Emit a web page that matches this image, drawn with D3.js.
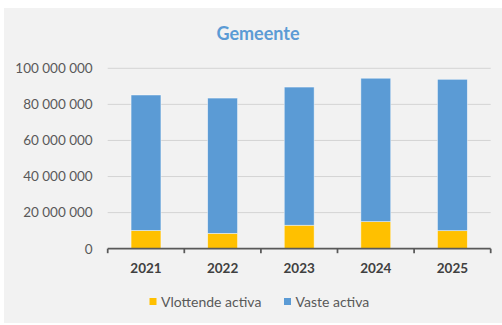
<!DOCTYPE html>
<html>
<head>
<meta charset="utf-8">
<script src="https://cdn.jsdelivr.net/npm/d3@7"></script>
<style>
  html, body { margin: 0; padding: 0; background: #ffffff; }
  svg { display: block; }
</style>
</head>
<body>
<svg id="chart" width="502" height="325"></svg>
<script>
// Balans gemeente: vlottende en vaste activa per jaar (euro)
const years = ["2021", "2022", "2023", "2024", "2025"];
const vlottendeActiva = [10100000, 8500000, 13000000, 15000000, 10000000];
const vasteActiva = [75100000, 75000000, 76600000, 79500000, 83900000];
const yTicks = [0, 20000000, 40000000, 60000000, 80000000, 100000000];
const seriesNames = ["Vlottende activa", "Vaste activa"];
const seriesColors = ["#FFC000", "#5B9BD5"];

const svg = d3.select("#chart");
const font = "Lato, 'Open Sans', sans-serif";

// panel background
svg.append("rect")
  .attr("x", 4).attr("y", 8).attr("width", 498).attr("height", 315)
  .attr("fill", "#f2f2f2");

// title
svg.append("text")
  .attr("x", 258).attr("y", 40)
  .attr("text-anchor", "middle")
  .attr("font-family", font).attr("font-weight", 700).attr("font-size", 18)
  .attr("fill", "#5B9BD5")
  .text("Gemeente");

const plot = { left: 107.7, right: 490.7, top: 68.3, bottom: 248.7 };

const x = d3.scaleBand().domain(years)
  .range([plot.left, plot.right])
  .paddingInner(0.61).paddingOuter(0.305);

const y = d3.scaleLinear().domain([0, 100000000])
  .range([plot.bottom, plot.top]);

const fmt = v => d3.format(",")(v).replace(/,/g, " ");

// gridlines
svg.append("g").selectAll("line")
  .data(yTicks.filter(t => t > 0))
  .join("line")
  .attr("x1", plot.left).attr("x2", plot.right)
  .attr("y1", d => y(d)).attr("y2", d => y(d))
  .attr("stroke", "#d4d4d4").attr("stroke-width", 1);

// y axis labels
const yAxis = d3.axisLeft(y).tickValues(yTicks).tickFormat(fmt).tickSize(0).tickPadding(0);
const yg = svg.append("g").attr("transform", `translate(${plot.left - 15},0)`).call(yAxis);
yg.select(".domain").remove();
yg.selectAll("text")
  .attr("font-family", font).attr("font-size", 13.5).attr("fill", "#595959");

// stacked bars
const rows = years.map((yr, i) => ({ year: yr, v0: vlottendeActiva[i], v1: vasteActiva[i] }));
const stack = d3.stack().keys(["v0", "v1"])(rows);

svg.append("g").selectAll("g")
  .data(stack)
  .join("g")
  .attr("fill", (d, i) => seriesColors[i])
  .selectAll("rect")
  .data(d => d)
  .join("rect")
  .attr("x", d => x(d.data.year))
  .attr("width", x.bandwidth())
  .attr("y", d => y(d[1]))
  .attr("height", d => y(d[0]) - y(d[1]))
  .attr("stroke", "#ffffff").attr("stroke-opacity", 0.6).attr("stroke-width", 0.75);

// x axis
const xStep = x.step();
const xg = svg.append("g").attr("transform", `translate(0,${plot.bottom})`);
xg.append("line")
  .attr("x1", plot.left).attr("x2", plot.right)
  .attr("y1", 0).attr("y2", 0)
  .attr("stroke", "#595959").attr("stroke-width", 1.75);
xg.selectAll("line.tick")
  .data(d3.range(years.length + 1))
  .join("line").attr("class", "tick")
  .attr("x1", i => plot.left + i * xStep).attr("x2", i => plot.left + i * xStep)
  .attr("y1", 0).attr("y2", 4.5)
  .attr("stroke", "#595959").attr("stroke-width", 1.75);
xg.selectAll("text")
  .data(years)
  .join("text")
  .attr("x", d => x(d) + x.bandwidth() / 2)
  .attr("y", 24)
  .attr("text-anchor", "middle")
  .attr("font-family", font).attr("font-weight", 700).attr("font-size", 13.5)
  .attr("fill", "#404040")
  .text(d => d);

// legend
const legend = svg.append("g");
const legendItems = [
  { name: seriesNames[0], color: seriesColors[0], x: 149.5 },
  { name: seriesNames[1], color: seriesColors[1], x: 284 }
];
const li = legend.selectAll("g").data(legendItems).join("g")
  .attr("transform", d => `translate(${d.x},301.5)`);
li.append("rect")
  .attr("x", 0).attr("y", -3.5).attr("width", 7).attr("height", 7)
  .attr("fill", d => d.color);
li.append("text")
  .attr("x", 11.5).attr("y", 5)
  .attr("font-family", font).attr("font-size", 14).attr("fill", "#595959")
  .text(d => d.name);
</script>
</body>
</html>
